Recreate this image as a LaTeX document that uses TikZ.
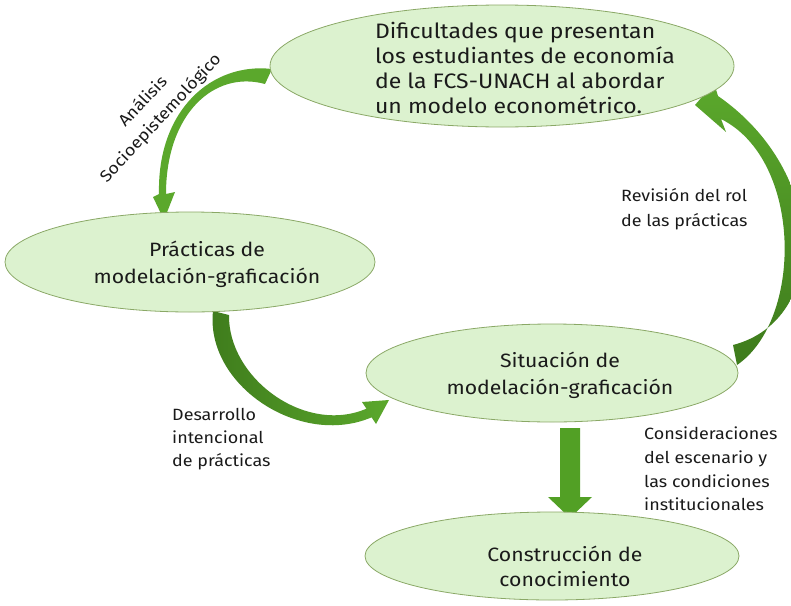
\documentclass[tikz,border=0pt]{standalone}
\usepackage{fontspec}
\setmainfont{Fira Sans}[FakeStretch=1.1]
\usetikzlibrary{shapes.geometric}
\definecolor{ellfill}{HTML}{DCF2CF}
\definecolor{elldraw}{HTML}{8AA866}
\definecolor{agreen}{HTML}{52A025}
\definecolor{agreenlight}{HTML}{5BA82C}
\definecolor{agreendark}{HTML}{3E7B1C}
\definecolor{txt}{HTML}{1A1A1A}
\tikzset{
  ell/.style={ellipse, draw=elldraw, line width=0.8pt, fill=ellfill, inner sep=0pt, outer sep=0pt},
  etext/.style={font=\fontsize{20.9}{25}\selectfont, text=txt, align=left, inner sep=0pt},
  ctext/.style={font=\fontsize{19.3}{27}\selectfont, text=txt, align=center, inner sep=0pt},
  lbl/.style={font=\fontsize{16.3}{24}\selectfont, text=txt, align=left, inner sep=0pt},
  blockarrow/.style={draw=none}
}
\begin{document}
\begin{tikzpicture}[x=1pt,y=-1pt]
\useasboundingbox (0,0) rectangle (791,605);
\clip (0,0) rectangle (791,605);
% node placeholders for anchors (ellipses drawn later over arrows)
\path (502,66) node[ell, minimum width=464, minimum height=122, draw=none, fill=none] (e1) {};
\path (190,262) node[ell, minimum width=370, minimum height=100, draw=none, fill=none] (e2) {};
\path (552,373) node[ell, minimum width=372, minimum height=98, draw=none, fill=none] (e3) {};
\path (552,556) node[ell, minimum width=374, minimum height=88, draw=none, fill=none] (e4) {};

% Arrow 1: e1 -> e2 (Analisis)
\path[blockarrow, fill=agreenlight]
  ([shift={(2,3)}]e1.west) .. controls (212,62) and (157,110) .. (159,194)
  -- (153,197) -- ([shift={(-26,8)}]e2.north) -- (175,192) -- (166,194)
  .. controls (166,114) and (214,70) .. ([shift={(-5,18)}]e1.west) -- cycle;

% Arrow 2: e3 -> e1 (Revision)
\path[blockarrow, top color=agreenlight, bottom color=agreendark]
  ([shift={(-5,-28)}]e3.east) .. controls (829,320) and (829,173) .. (718,96)
  -- (714,83) -- ([shift={(-39,39)}]e1.east) -- (726,132) -- (721,119)
  .. controls (803,160) and (803,320) .. ([shift={(-1,-8)}]e3.east) -- cycle;

% Arrow 3: e2 -> e3 (Desarrollo)
\path[blockarrow, left color=agreendark, right color=agreenlight]
  ([shift={(23,-1)}]e2.south) .. controls (205,385) and (300,448) .. (371.6,417.3)
  -- (376,424) -- ([shift={(23,27)}]e3.west) -- (362,402) -- (366.4,408.7)
  .. controls (305,435) and (228,378) .. ([shift={(39,3)}]e2.south) -- cycle;

% Arrow 4: e3 -> e4
\path[blockarrow, fill=agreen]
  ([shift={(8,6)}]e3.south) -- (580,428) -- (580,497) -- (592,497)
  -- ([shift={(18,6)}]e4.north) -- (548,497) -- (560,497) -- cycle;

% Ellipses
\node[ell, minimum width=464, minimum height=122] at (e1) {};
\node[ell, minimum width=370, minimum height=100] at (e2) {};
\node[ell, minimum width=372, minimum height=98] at (e3) {};
\node[ell, minimum width=374, minimum height=88] at (e4) {};

% Ellipse texts
\node[etext] (t1) at (525,68) {Dificultades que presentan\\los estudiantes de economía\\de la FCS-UNACH al abordar\\un modelo econométrico.};
\node[ctext] (t2) at (207,264) {Prácticas de\\modelación-graficación};
\node[ctext] (t3) at (560,375) {Situación de\\modelación-graficación};
\node[ctext, font=\fontsize{19.3}{25}\selectfont] (t4) at (565,566) {Construcción de\\conocimiento};

% Labels
\node[lbl, align=center, rotate=47] (l1) at (152,110) {Análisis\\Socioepistemológico};
\node[lbl, anchor=west, font=\fontsize{16.3}{25}\selectfont] (l2) at (621,209) {Revisión del rol\\de las prácticas};
\node[lbl, anchor=west, font=\fontsize{16.3}{23}\selectfont] (l3) at (172,439) {Desarrollo\\intencional\\de prácticas};
\node[lbl, anchor=west, font=\fontsize{16.3}{23.7}\selectfont] (l4) at (644,469) {Consideraciones\\del escenario y\\las condiciones\\institucionales};
\end{tikzpicture}
\end{document}
